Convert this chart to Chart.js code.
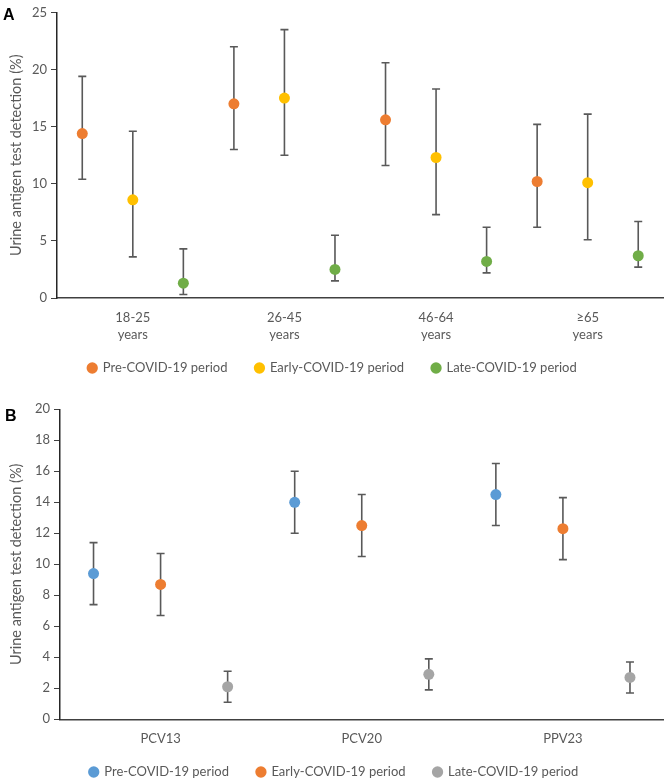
<!DOCTYPE html>
<html lang="en">
<head>
<meta charset="UTF-8">
<title>Urine antigen test detection</title>
<script src="https://cdn.jsdelivr.net/npm/chart.js"></script>
<style>
  body { margin: 0; background: #fff; }
  .wrap { position: relative; width: 669px; height: 779px; overflow: hidden; }
  .panel { position: absolute; left: 0; width: 669px; }
  .tag { position: absolute; font: bold 16px "Liberation Sans", Arial, sans-serif; color: #000; }
</style>
</head>
<body>
<div class="wrap">
  <div class="panel" style="top:0;height:380px"><canvas id="chartA"></canvas></div>
  <div class="panel" style="top:380px;height:399px"><canvas id="chartB"></canvas></div>
  <div class="tag" style="left:3px;top:6px">A</div>
  <div class="tag" style="left:5px;top:407px">B</div>
</div>

<script>
// Panel A - age groups
const ageGroups = [['18-25', 'years'], ['26-45', 'years'], ['46-64', 'years'], ['≥65', 'years']];
const preA = [14.4, 17.0, 15.6, 10.2];
const preALow = [10.4, 13.0, 11.6, 6.2];
const preAHigh = [19.4, 22.0, 20.6, 15.2];
const earlyA = [8.6, 17.5, 12.3, 10.1];
const earlyALow = [3.6, 12.5, 7.3, 5.1];
const earlyAHigh = [14.6, 23.5, 18.3, 16.1];
const lateA = [1.3, 2.5, 3.2, 3.7];
const lateALow = [0.3, 1.5, 2.2, 2.7];
const lateAHigh = [4.3, 5.5, 6.2, 6.7];

// Panel B - vaccine serotypes
const vaccines = ['PCV13', 'PCV20', 'PPV23'];
const preB = [9.4, 14.0, 14.5];
const preBLow = [7.4, 12.0, 12.5];
const preBHigh = [11.4, 16.0, 16.5];
const earlyB = [8.7, 12.5, 12.3];
const earlyBLow = [6.7, 10.5, 10.3];
const earlyBHigh = [10.7, 14.5, 14.3];
const lateB = [2.1, 2.9, 2.7];
const lateBLow = [1.1, 1.9, 1.7];
const lateBHigh = [3.1, 3.9, 3.7];

const yTitle = 'Urine antigen test detection (%)';
const textColor = '#595959';
const font = { family: 'Lato', size: 13, lineHeight: 1.3 };
const titleFont = { family: 'Lato', size: 14.5, lineHeight: 1.3 };

// error bars drawn under the points
const errorBars = {
    id: 'errorBars',
    beforeDatasetsDraw(chart) {
        const { ctx, scales: { x, y } } = chart;
        ctx.save();
        ctx.strokeStyle = '#595959';
        ctx.lineWidth = 1.6;
        chart.data.datasets.forEach(ds => {
            ds.data.forEach(p => {
                const px = x.getPixelForValue(p.x);
                const top = y.getPixelForValue(p.hi);
                const bot = y.getPixelForValue(p.lo);
                ctx.beginPath();
                ctx.moveTo(px, top); ctx.lineTo(px, bot);
                ctx.moveTo(px - 4, top); ctx.lineTo(px + 4, top);
                ctx.moveTo(px - 4, bot); ctx.lineTo(px + 4, bot);
                ctx.stroke();
            });
        });
        ctx.restore();
    }
};

// pull the legend up closer to the axis labels (padding is wide for the item gaps)
const legendShift = {
    id: 'legendShift',
    afterLayout(chart, args, opts) {
        const lg = chart.legend;
        lg.top = opts.top;
        lg.bottom = opts.top + 46;
    }
};

function buildSeries(label, color, values, low, high, k) {
    return {
        label: label,
        data: values.map((v, i) => ({ x: i + (k + 0.5) / 3, y: v, lo: low[i], hi: high[i] })),
        backgroundColor: color,
        borderColor: color,
        pointRadius: 5.5,
        pointBorderWidth: 0,
        pointStyle: 'circle',
        showLine: false
    };
}

function makeChart(id, cats, datasets, yMax, yStep, cfg) {
    return new Chart(document.getElementById(id), {
        type: 'scatter',
        data: { datasets: datasets },
        plugins: [errorBars, legendShift],
        options: {
            responsive: true,
            maintainAspectRatio: false,
            animation: false,
            layout: { padding: cfg.padding },
            plugins: {
                tooltip: { enabled: false },
                legendShift: { top: cfg.legendTop },
                legend: {
                    position: 'bottom',
                    maxHeight: cfg.legendHeight,
                    labels: {
                        usePointStyle: true,
                        boxWidth: 8,
                        boxHeight: 8,
                        padding: 28,
                        color: textColor,
                        font: font
                    }
                }
            },
            scales: {
                x: {
                    type: 'linear',
                    min: 0,
                    max: cats.length,
                    grid: { display: false, drawTicks: false },
                    border: { display: true, color: '#404040', width: 1.5 },
                    afterBuildTicks: axis => { axis.ticks = cats.map((c, i) => ({ value: i + 0.5 })); },
                    afterFit: scale => { scale.height = cfg.xHeight; },
                    ticks: {
                        autoSkip: false,
                        maxRotation: 0,
                        padding: cfg.xPad,
                        color: textColor,
                        font: font,
                        callback: (val, idx) => cats[idx]
                    }
                },
                y: {
                    min: 0,
                    max: yMax,
                    grid: { display: true, drawOnChartArea: false, drawTicks: true, tickLength: 6, color: '#404040' },
                    border: { display: true, color: '#262626', width: 1.5 },
                    afterFit: scale => { scale.width = cfg.yWidth; },
                    ticks: { stepSize: yStep, padding: 4, color: textColor, font: font },
                    title: { display: true, text: yTitle, color: textColor, font: titleFont, padding: { top: 7, bottom: 0 } }
                }
            }
        }
    });
}

makeChart('chartA', ageGroups, [
    buildSeries('Pre-COVID-19 period', '#ED7D31', preA, preALow, preAHigh, 0),
    buildSeries('Early-COVID-19 period', '#FFC000', earlyA, earlyALow, earlyAHigh, 1),
    buildSeries('Late-COVID-19 period', '#70AD47', lateA, lateALow, lateAHigh, 2)
], 25, 5, {
    padding: { top: 5, right: 4, bottom: 4, left: 0 },
    xHeight: 50, xPad: 11.5, yWidth: 57, legendHeight: 28, legendTop: 333.5
});

makeChart('chartB', vaccines, [
    buildSeries('Pre-COVID-19 period', '#5B9BD5', preB, preBLow, preBHigh, 0),
    buildSeries('Early-COVID-19 period', '#ED7D31', earlyB, earlyBLow, earlyBHigh, 1),
    buildSeries('Late-COVID-19 period', '#A5A5A5', lateB, lateBLow, lateBHigh, 2)
], 20, 2, {
    padding: { top: 29.3, right: 1, bottom: 0, left: 0 },
    xHeight: 30, xPad: 11, yWidth: 60, legendHeight: 29.7, legendTop: 357.5
});
</script>
</body>
</html>
